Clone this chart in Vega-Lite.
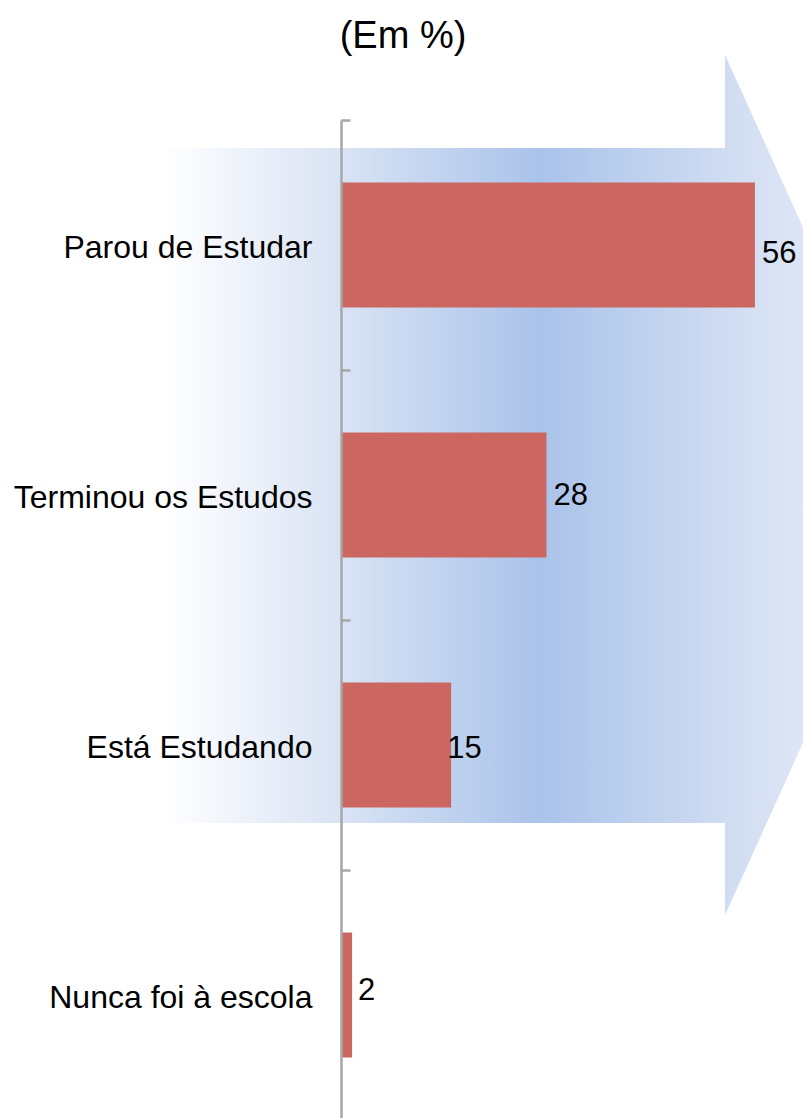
{
  "$schema": "https://vega.github.io/schema/vega-lite/v6.json",
  "width": 462,
  "height": 1000,
  "autosize": {"type": "none"},
  "padding": {"left": 341, "top": 120, "right": 0, "bottom": 0},
  "background": "#ffffff",
  "title": {
    "text": "(Em %)",
    "font": "Liberation Sans",
    "fontSize": 38,
    "fontWeight": "normal",
    "color": "#000000",
    "anchor": "middle",
    "frame": "group",
    "dx": -169,
    "baseline": "alphabetic",
    "offset": -31
  },
  "config": {"view": {"stroke": null}, "font": "Liberation Sans"},
  "datasets": {
    "shaft": [{"x0": -24.2, "x1": 51.95, "y0": 28, "y1": 703}],
    "head": [
      {"hx": 51.95, "ytop": -65, "ybot": 795},
      {"hx": 78.3, "ytop": 365, "ybot": 365}
    ],
    "survey": [
      {"situacao": "Parou de Estudar", "valor": 56, "rotulo": "56"},
      {"situacao": "Terminou os Estudos", "valor": 27.8, "rotulo": "28"},
      {"situacao": "Está Estudando", "valor": 14.9, "rotulo": "15"},
      {"situacao": "Nunca foi à escola", "valor": 1.5, "rotulo": "2"}
    ]
  },
  "layer": [
    {
      "layer": [
        {
          "data": {"name": "shaft"},
          "mark": {
            "type": "rect",
            "clip": false,
            "fill": {
              "gradient": "linear",
              "x1": 0, "y1": 0, "x2": 1, "y2": 0,
              "stops": [
                {"offset": 0, "color": "#ffffff"},
                {"offset": 0.318, "color": "#d9e3f4"},
                {"offset": 0.671, "color": "#aac3ea"},
                {"offset": 1, "color": "#cfdcf2"}
              ]
            }
          },
          "encoding": {
            "x": {"field": "x0", "type": "quantitative", "scale": {"domain": [0, 62.5], "nice": false, "zero": false}, "axis": null},
            "x2": {"field": "x1"},
            "y": {"field": "y0", "type": "quantitative", "scale": {"domain": [0, 1000], "reverse": true, "nice": false, "zero": false}, "axis": null},
            "y2": {"field": "y1"}
          }
        },
        {
          "data": {"name": "head"},
          "mark": {
            "type": "area",
            "orient": "vertical",
            "clip": false,
            "opacity": 1,
            "fill": {
              "gradient": "linear",
              "x1": 0, "y1": 0, "x2": 1, "y2": 0,
              "stops": [
                {"offset": 0, "color": "#cfdcf2"},
                {"offset": 0.4, "color": "#dee6f5"},
                {"offset": 1, "color": "#e8eef8"}
              ]
            }
          },
          "encoding": {
            "x": {"field": "hx", "type": "quantitative", "scale": {"domain": [0, 62.5], "nice": false, "zero": false}, "axis": null},
            "y": {"field": "ytop", "type": "quantitative", "scale": {"domain": [0, 1000], "reverse": true, "nice": false, "zero": false}, "axis": null},
            "y2": {"field": "ybot"}
          }
        }
      ]
    },
    {
      "data": {"name": "survey"},
      "encoding": {
        "y": {
          "field": "situacao",
          "type": "nominal",
          "sort": null,
          "scale": {"paddingInner": 0.5, "paddingOuter": 0.25},
          "axis": {
            "title": null,
            "domainColor": "#a6a6a6",
            "domainWidth": 2.5,
            "tickColor": "#a6a6a6",
            "tickWidth": 2.5,
            "tickSize": -9,
            "tickOffset": -125,
            "labelOffset": 127,
            "labelPadding": 38,
            "labelFont": "Liberation Sans",
            "labelFontSize": 32,
            "labelColor": "#000000",
            "labelLimit": 400,
            "zindex": 1
          }
        },
        "x": {"field": "valor", "type": "quantitative", "scale": {"domain": [0, 62.5], "nice": false, "zero": false}, "axis": null}
      },
      "layer": [
        {"mark": {"type": "bar", "color": "#cc6660"}},
        {
          "transform": [{"filter": "datum.rotulo == '56'"}],
          "mark": {"type": "text", "align": "left", "baseline": "middle", "dx": 7, "dy": 9, "fontSize": 31, "font": "Liberation Sans", "color": "#000000"},
          "encoding": {"text": {"field": "rotulo"}}
        },
        {
          "transform": [{"filter": "datum.rotulo == '28'"}],
          "mark": {"type": "text", "align": "left", "baseline": "middle", "dx": 7, "dy": 1, "fontSize": 31, "font": "Liberation Sans", "color": "#000000"},
          "encoding": {"text": {"field": "rotulo"}}
        },
        {
          "transform": [{"filter": "datum.rotulo == '15'"}],
          "mark": {"type": "text", "align": "left", "baseline": "middle", "dx": -4, "dy": 4, "fontSize": 31, "font": "Liberation Sans", "color": "#000000"},
          "encoding": {"text": {"field": "rotulo"}}
        },
        {
          "transform": [{"filter": "datum.rotulo == '2'"}],
          "mark": {"type": "text", "align": "left", "baseline": "middle", "dx": 6, "dy": -4, "fontSize": 31, "font": "Liberation Sans", "color": "#000000"},
          "encoding": {"text": {"field": "rotulo"}}
        }
      ]
    }
  ],
  "resolve": {"scale": {"y": "independent"}}
}
